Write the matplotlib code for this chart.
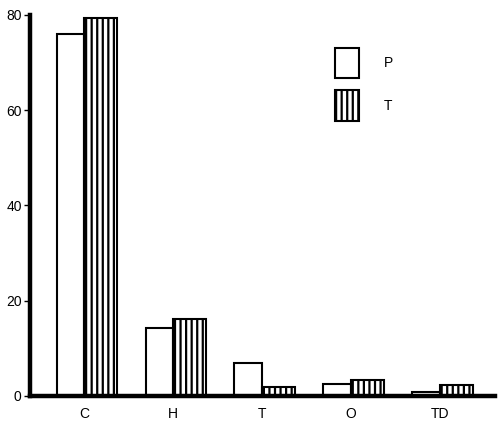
import matplotlib.pyplot as plt
import numpy as np
from matplotlib.patches import Patch

plt.rcParams['font.family'] = ['Liberation Sans', 'DejaVu Sans']
plt.rcParams['hatch.linewidth'] = 1.6

categories = ['C', 'H', 'T', 'O', 'TD']
p_values = [76.0, 14.3, 6.9, 2.5, 0.8]
t_values = [79.4, 16.2, 1.9, 3.4, 2.3]
y_ticks = [0, 20, 40, 60, 80]

x = np.arange(len(categories))
w_p = 0.31
w_t = 0.37

fig = plt.figure(figsize=(5, 4.38), dpi=100)
ax = fig.add_axes([0.06, 0.096, 0.93, 0.87])

ax.bar(x - w_p / 2, p_values, width=w_p, color='white', edgecolor='black', linewidth=1.5)
ax.bar(x + w_t / 2, t_values, width=w_t, color='white', edgecolor='black', linewidth=1.5,
       hatch='|||')

ax.set_xlim(-0.61, 4.62)
ax.set_ylim(0, 80)
ax.set_xticks(x)
ax.set_xticklabels(categories)
ax.set_yticks(y_ticks)
for s in ['top', 'right']:
    ax.spines[s].set_visible(False)
for s in ['left', 'bottom']:
    ax.spines[s].set_linewidth(3.2)
ax.tick_params(axis='x', length=0, pad=8, labelsize=10)
ax.tick_params(axis='y', length=4, width=1, pad=2, labelsize=10)

handles = [Patch(facecolor='white', edgecolor='black', linewidth=1.5),
           Patch(facecolor='white', edgecolor='black', linewidth=1.5, hatch='|||')]
ax.legend(handles, ['P', 'T'], loc='upper left', bbox_to_anchor=(0.63, 0.946),
          frameon=False, handlelength=1.7, handleheight=3.0, labelspacing=0.85,
          handletextpad=1.8, fontsize=10)

fig.savefig('out.png', dpi=100)
